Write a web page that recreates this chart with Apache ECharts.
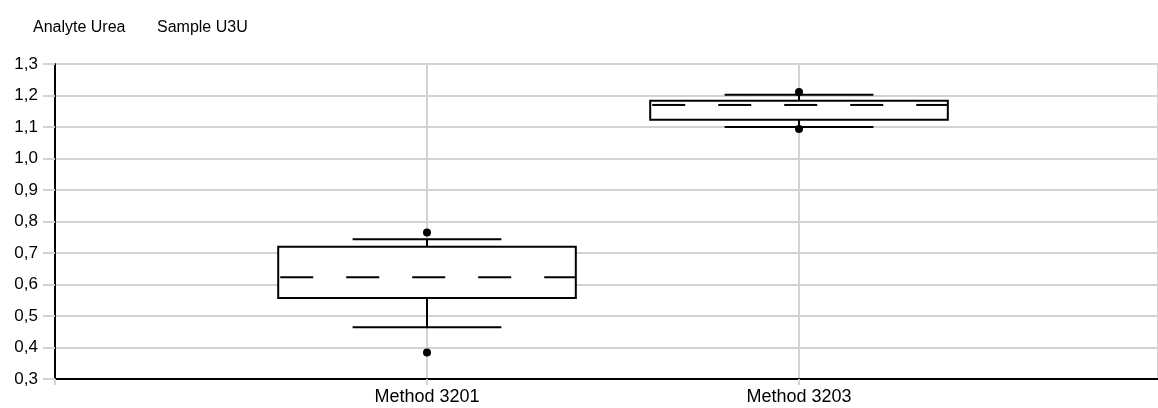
<!DOCTYPE html>
<html>
<head>
<meta charset="utf-8">
<script src="https://cdn.jsdelivr.net/npm/echarts@6/dist/echarts.min.js"></script>
<style>
html,body{margin:0;padding:0;background:#fff;}
#chart{width:1158px;height:408px;}
</style>
</head>
<body>
<div id="chart"></div>
<script>
// Category labels at positions 1 and 2 of the x axis
var categories = ['', 'Method 3201', 'Method 3203'];
// Box statistics per method: [position, lowWhisker, q1, median, q3, highWhisker]
var boxStats = [
  [1, 0.464, 0.557, 0.623, 0.720, 0.744],
  [2, 1.100, 1.123, 1.170, 1.183, 1.202]
];
// Outliers: [position, value]
var outliers = [
  [1, 0.765],
  [1, 0.384],
  [2, 1.211],
  [2, 1.094]
];
var titleAnalyte = 'Analyte Urea';
var titleSample = 'Sample U3U';
var yMin = 0.3, yMax = 1.3, yStep = 0.1;
var xMin = 0, xMax = 2.965, xStep = 1;

var chart = echarts.init(document.getElementById('chart'));
var fontFamily = 'Liberation Sans, Arial, sans-serif';

function renderBox(params, api) {
  var x = api.value(0);
  var low = api.coord([x, api.value(1)]);
  var q1 = api.coord([x, api.value(2)]);
  var med = api.coord([x, api.value(3)]);
  var q3 = api.coord([x, api.value(4)]);
  var high = api.coord([x, api.value(5)]);
  var unit = api.size([1, 0])[0];
  var halfBox = unit * 0.4;
  var halfCap = unit * 0.2;
  var cx = q1[0];
  var lineStyle = {stroke: '#000', lineWidth: 2, fill: null};
  return {
    type: 'group',
    children: [
      {type: 'line', shape: {x1: cx, y1: high[1], x2: cx, y2: q3[1]}, style: lineStyle},
      {type: 'line', shape: {x1: cx, y1: q1[1], x2: cx, y2: low[1]}, style: lineStyle},
      {type: 'line', shape: {x1: cx - halfCap, y1: high[1], x2: cx + halfCap, y2: high[1]}, style: lineStyle},
      {type: 'line', shape: {x1: cx - halfCap, y1: low[1], x2: cx + halfCap, y2: low[1]}, style: lineStyle},
      {type: 'rect', shape: {x: cx - halfBox, y: q3[1], width: halfBox * 2, height: q1[1] - q3[1]},
        style: {stroke: '#000', lineWidth: 2, fill: '#fff'}},
      {type: 'line', shape: {x1: cx - halfBox + 2, y1: med[1], x2: cx + halfBox, y2: med[1]},
        style: {stroke: '#000', lineWidth: 2, lineDash: [33, 33], fill: null}}
    ]
  };
}

chart.setOption({
  animation: false,
  backgroundColor: '#fff',
  title: [
    {text: titleAnalyte, left: 28, top: 15, textStyle: {fontFamily: fontFamily, fontSize: 16, fontWeight: 'normal', color: '#000'}},
    {text: titleSample, left: 152, top: 15, textStyle: {fontFamily: fontFamily, fontSize: 16, fontWeight: 'normal', color: '#000'}}
  ],
  grid: {left: 55, top: 64, right: 0, bottom: 29, containLabel: false, outerBoundsMode: 'none'},
  xAxis: {
    type: 'value',
    min: xMin, max: xMax, interval: xStep,
    axisLine: {show: true, lineStyle: {color: '#000', width: 2}},
    axisTick: {show: true, length: 6, lineStyle: {color: '#d3d3d3', width: 2}},
    axisLabel: {color: '#000', fontFamily: fontFamily, fontSize: 18, margin: 9,
      showMinLabel: true, showMaxLabel: false,
      formatter: function (v) { return categories[v] || ''; }},
    splitLine: {show: true, lineStyle: {color: '#d3d3d3', width: 2}}
  },
  yAxis: {
    type: 'value',
    min: yMin, max: yMax, interval: yStep,
    axisLine: {show: true, lineStyle: {color: '#000', width: 2}},
    axisTick: {show: true, length: 12, lineStyle: {color: '#d3d3d3', width: 2}},
    axisLabel: {color: '#000', fontFamily: fontFamily, fontSize: 17, margin: 17,
      formatter: function (v) { return v.toFixed(1).replace('.', ','); }},
    splitLine: {show: true, lineStyle: {color: '#d3d3d3', width: 2}}
  },
  series: [
    {
      type: 'custom',
      renderItem: renderBox,
      data: boxStats,
      encode: {x: 0, y: [1, 2, 3, 4, 5]},
      z: 3
    },
    {
      type: 'scatter',
      data: outliers,
      symbol: 'circle',
      symbolSize: 8,
      itemStyle: {color: '#000', opacity: 1},
      z: 4
    }
  ]
});
</script>
</body>
</html>
